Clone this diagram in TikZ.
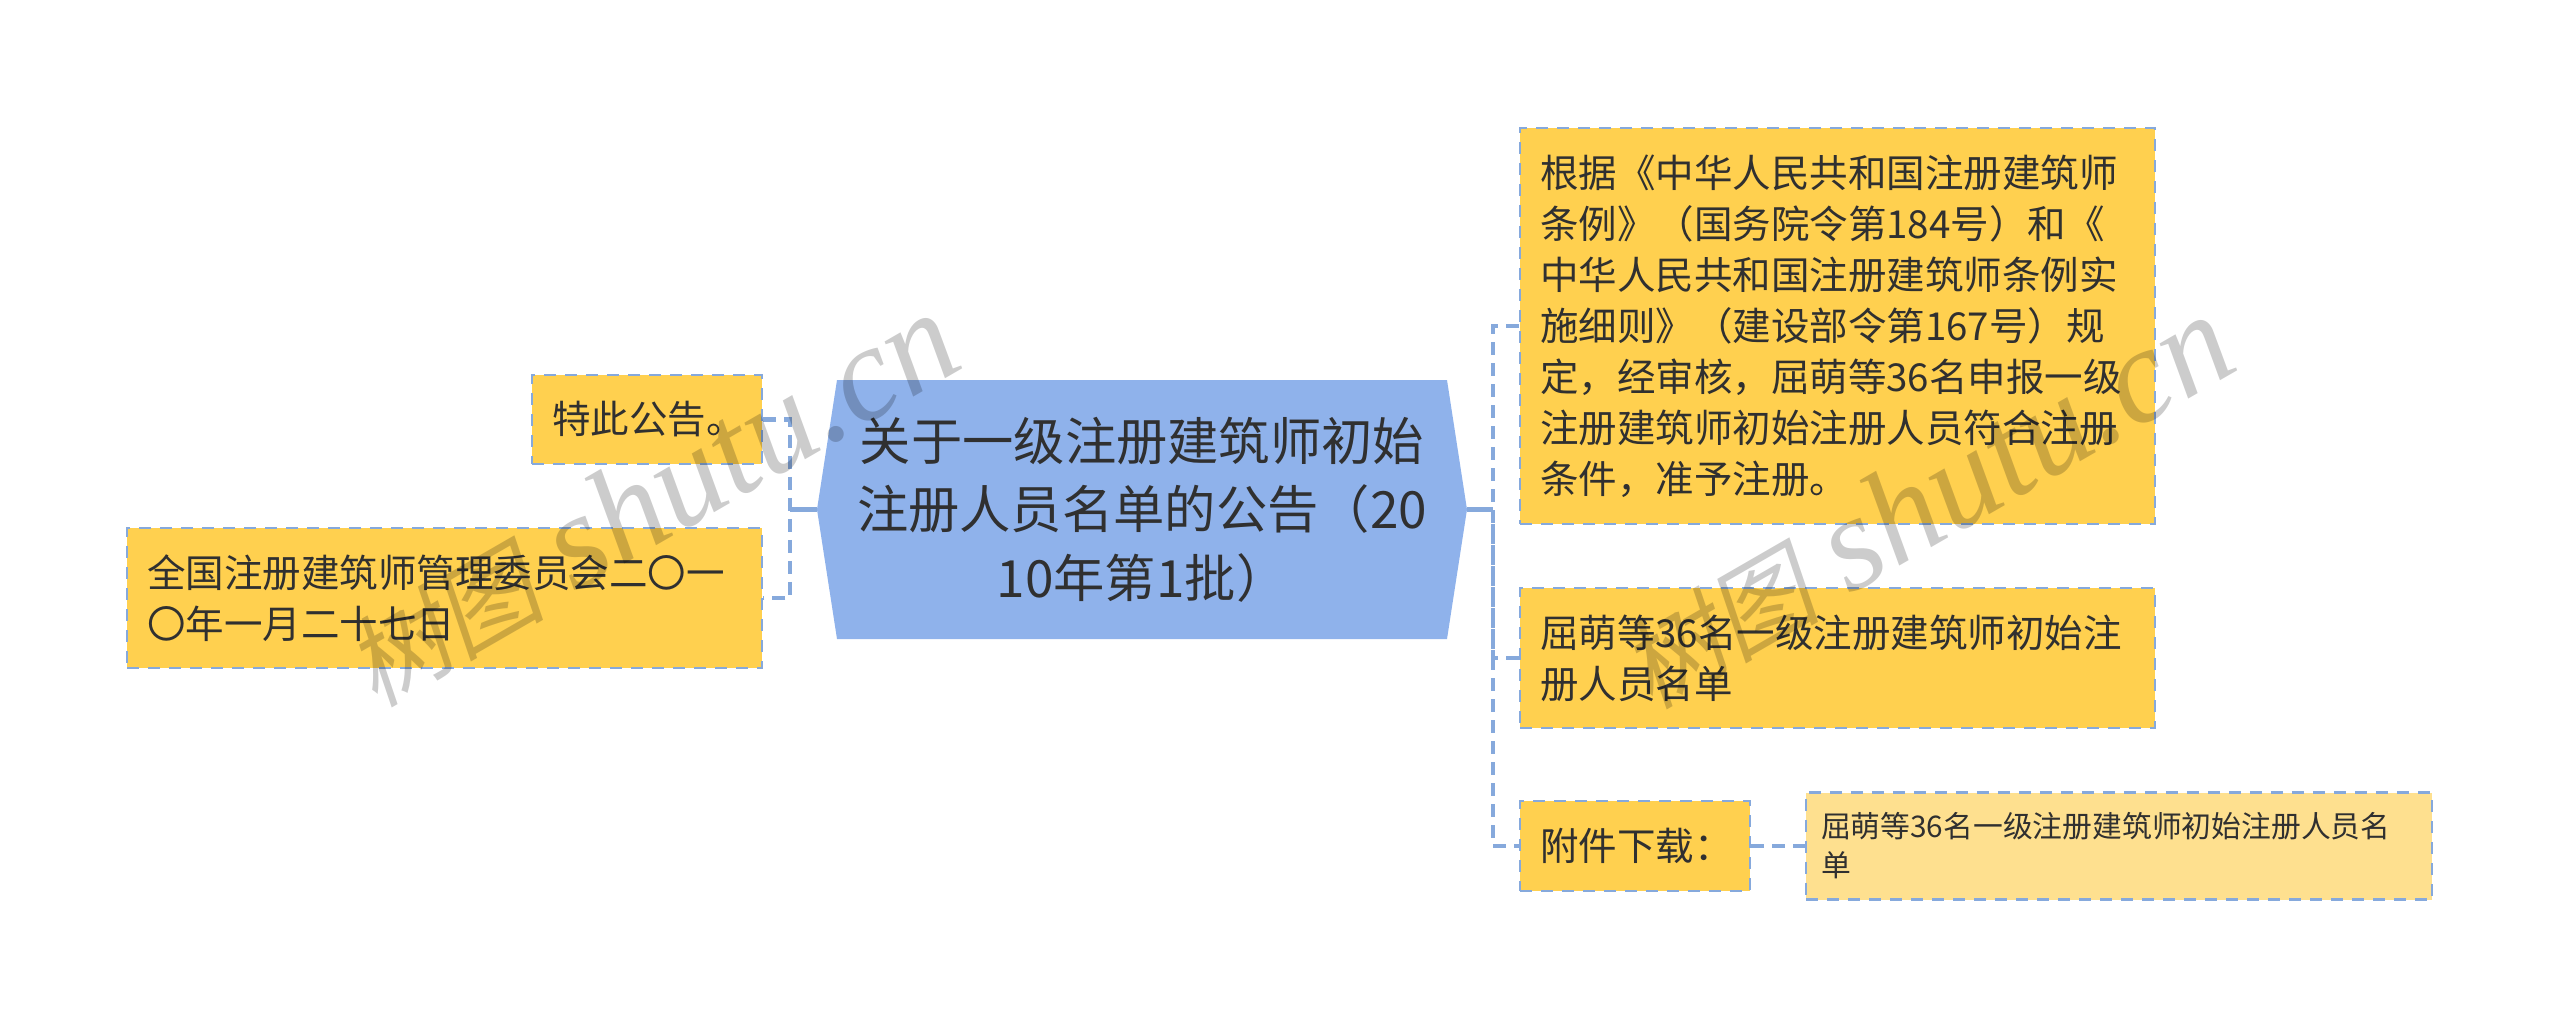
\documentclass[tikz,border=0pt]{standalone}
\usepackage{fontspec}
\setmainfont{Noto Sans CJK SC}
\newfontfamily\markfont{Liberation Serif}
\newfontfamily\markcjk[FakeSlant=0.2]{Noto Sans CJK SC}
\usetikzlibrary{positioning}
\definecolor{linkblue}{HTML}{86A9DC}
\definecolor{rootblue}{HTML}{8FB2EB}
\definecolor{leafyellow}{HTML}{FFD04F}
\definecolor{paleyellow}{HTML}{FEE08F}
\definecolor{inkgray}{HTML}{303030}
\tikzstyle{leaf} = [rectangle, draw=linkblue, fill=leafyellow, line width=2.5pt,
    dash pattern=on 12pt off 9pt, text=inkgray, align=left, inner sep=0pt,
    font=\fontsize{38.5}{51}\selectfont]
\tikzstyle{subleaf} = [leaf, fill=paleyellow, font=\fontsize{29.8}{39}\selectfont]
\tikzstyle{root} = [text=inkgray, inner sep=0pt, align=center,
    font=\fontsize{51.3}{68.5}\selectfont]
\tikzstyle{stem} = [draw=linkblue, line width=4.5pt]
\tikzstyle{link} = [stem, dash pattern=on 13pt off 8pt]
\tikzstyle{wmark} = [text=black, opacity=.2, rotate=30]
\newcommand{\marktext}{{\fontsize{100}{100}\markcjk 树图}\hspace{30pt}{\fontsize{135}{135}\markfont\itshape shutu.cn}}

\begin{document}
\begin{tikzpicture}[x=1pt, y=-1pt]
  \useasboundingbox (0,0) rectangle (2560,1027);
  % Place nodes
  \coordinate (titlewest) at (817,509.5);
  \coordinate (titleeast) at (1467,509.5);
  \fill [rootblue] (837,380) -- (1447,380) -- (titleeast) -- (1447,639) -- (837,639) -- (titlewest) -- cycle;
  \node [root] (title) at (1142,509.5)
    {关于一级注册建筑师初始\\注册人员名单的公告（20\\10年第1批）};

  \node [leaf, minimum width=230pt, minimum height=89pt, text width=190pt] (notice) at (647,419.5) {特此公告。};
  \node [leaf, minimum width=635pt, minimum height=140pt, text width=595pt] (council) at (444.5,598)
    {全国注册建筑师管理委员会二〇一\\〇年一月二十七日};

  \node [leaf, minimum width=635pt, minimum height=396pt, text width=595pt] (basis) at (1837.5,326)
    {根据《中华人民共和国注册建筑师\\条例》（国务院令第184号）和《\\中华人民共和国注册建筑师条例实\\施细则》（建设部令第167号）规\\定，经审核，屈萌等36名申报一级\\注册建筑师初始注册人员符合注册\\条件，准予注册。};
  \node [leaf, minimum width=635pt, minimum height=140pt, text width=595pt] (roster) at (1837.5,658)
    {屈萌等36名一级注册建筑师初始注\\册人员名单};
  \node [leaf, minimum width=230pt, minimum height=90pt, text width=190pt] (attach) at (1635,846) {附件下载：};
  \node [subleaf, minimum width=626pt, minimum height=107pt, text width=596pt] (file) at (2119,846)
    {屈萌等36名一级注册建筑师初始注册人员名\\单};

  \coordinate (leftjoin) at (790,509.5);
  \coordinate (rightjoin) at (1493,509.5);

  % Connectors
  \path [stem] (titlewest) -- (leftjoin);
  \path [link] (notice.east) -| (leftjoin) |- (council.east);
  \path [stem] (titleeast) -- (rightjoin);
  \path [link] (basis.west) -| (rightjoin) |- (attach.west);
  \path [link] (roster.west) -| (rightjoin);
  \path [link] (attach) -- (file);

  % Watermarks
  \node [wmark] (markleft) at (650,500) {\marktext};
  \node [wmark] (markright) at (1925,502) {\marktext};
\end{tikzpicture}
\end{document}
